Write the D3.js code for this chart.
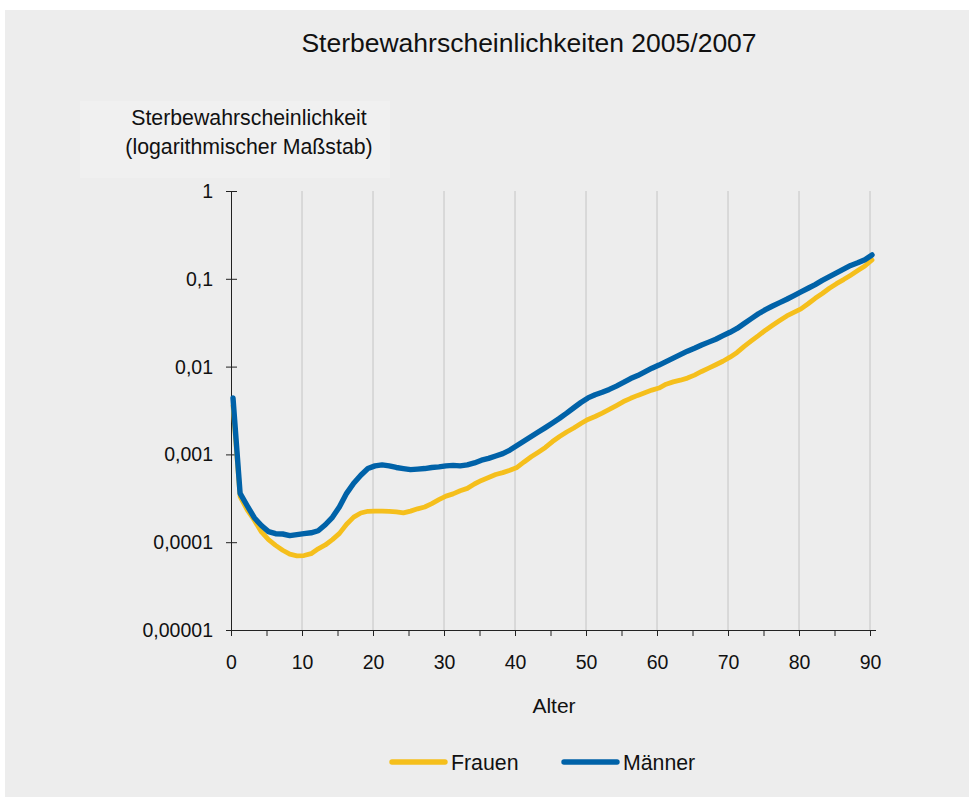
<!DOCTYPE html>
<html><head><meta charset="utf-8">
<script src="https://cdn.jsdelivr.net/npm/d3@7"></script>
<style>body{margin:0;background:#fff}svg{display:block}text{font-family:"Liberation Sans",Arial,sans-serif;fill:#111}</style>
</head><body>
<svg id="c" width="971" height="799"></svg>
<script>
const ages = d3.range(0, 91);
const frauen = [0.0036,0.00033,0.000234,0.000178,0.000131,0.000107,0.000092,0.000081,0.000073,0.000070,
0.0000705,0.000074,0.000084,0.000093,0.000107,0.000126,0.000160,0.000193,0.000215,0.000225,
0.000226,0.000226,0.000225,0.000222,0.000216,0.000226,0.000240,0.000252,0.000275,0.000305,
0.000335,0.000355,0.000385,0.000410,0.000460,0.000505,0.000545,0.000590,0.000620,0.000660,
0.000710,0.00082,0.00094,0.00106,0.00120,0.00140,0.00160,0.00180,0.00200,0.00225,
0.00250,0.00270,0.00295,0.00325,0.00360,0.00400,0.00435,0.00470,0.00505,0.00540,
0.00570,0.00630,0.00670,0.00700,0.00740,0.00800,0.00880,0.00960,0.01050,0.01150,
0.01280,0.01450,0.01700,0.01960,0.02250,0.02600,0.02960,0.03350,0.03780,0.04150,
0.04550,0.05200,0.06000,0.06800,0.07800,0.08800,0.09800,0.11000,0.12400,0.14000,0.16400];
const maenner = [0.0044,0.00036,0.00026,0.00019,0.000155,0.000132,0.000125,0.000124,0.000119,0.000122,
0.000125,0.000128,0.000135,0.000158,0.000192,0.000253,0.00036,0.00047,0.00058,0.00069,
0.00074,0.00076,0.00074,0.00071,0.00069,0.00067,0.00068,0.00069,0.00071,0.00072,
0.00074,0.00075,0.00074,0.00076,0.00080,0.00086,0.00090,0.00096,0.00102,0.00112,
0.00126,0.00142,0.00160,0.00180,0.00202,0.00228,0.00258,0.00295,0.00340,0.00390,
0.00440,0.00478,0.00510,0.00550,0.00600,0.00660,0.00730,0.00790,0.00870,0.00960,
0.0104,0.0114,0.0125,0.0137,0.0150,0.0162,0.0176,0.0190,0.0205,0.0225,
0.0246,0.0272,0.0310,0.0352,0.0400,0.0445,0.0490,0.0535,0.0585,0.0645,
0.0710,0.0780,0.0860,0.0960,0.1060,0.1170,0.1290,0.1420,0.1520,0.1650,0.1870];
const yTickValues = [0.00001,0.0001,0.001,0.01,0.1,1];
const yTickLabels = ["0,00001","0,0001","0,001","0,01","0,1","1"];
const xTickValues = [0,10,20,30,40,50,60,70,80,90];
const xMinorTicks = [5,15,25,35,45,55,65,75,85];
const seriesNames = ["Frauen","Männer"];
const colors = ["#f5bf1c","#0062a8"];
const title = "Sterbewahrscheinlichkeiten 2005/2007";
const yTitle = ["Sterbewahrscheinlichkeit","(logarithmischer Maßstab)"];
const xTitle = "Alter";

const svg = d3.select("#c");
svg.append("rect").attr("x",5).attr("y",10).attr("width",964).attr("height",787).attr("fill","#ededed");
svg.append("rect").attr("x",80).attr("y",101).attr("width",310).attr("height",77).attr("fill","#f0f0f0");

const x = d3.scaleLinear().domain([0,90]).range([231,870]);
const y = d3.scaleLog().domain([1e-5,1]).range([630,191]);

// grid
svg.append("g").selectAll("line").data(xTickValues.slice(1)).join("line")
  .attr("x1",d=>x(d)).attr("x2",d=>x(d)).attr("y1",y(1)).attr("y2",y(1e-5))
  .attr("stroke","#c4c4c4").attr("stroke-width",1);

// axes
const xAxis = d3.axisBottom(x).tickValues(xTickValues.concat(xMinorTicks)).tickSize(6).tickFormat(d=>xTickValues.includes(d)?String(d):"");
const gx = svg.append("g").attr("transform",`translate(0,${y(1e-5)})`).call(xAxis);
gx.select(".domain").attr("stroke","#222").attr("d",`M${x(0)-5},0.5H${x(90)+6}`);
gx.selectAll(".tick line").attr("stroke","#222");
gx.selectAll(".tick text").attr("font-size",19.5).attr("dy","1.55em").attr("fill","#111");

const yAxis = d3.axisLeft(y).tickValues(yTickValues).tickSize(0).tickFormat((d,i)=>yTickLabels[i]).tickPadding(18);
const gy = svg.append("g").attr("transform",`translate(${x(0)},0)`).call(yAxis);
gy.select(".domain").attr("stroke","#222").attr("d",`M0.5,${y(1)}V${y(1e-5)}`);
gy.selectAll(".tick line").attr("stroke","#222").attr("x1",-5).attr("x2",6);
gy.selectAll(".tick text").attr("font-size",19.5).attr("fill","#111").attr("dy","0.33em");

// lines
const line = d3.line().x((d,i)=>x(ages[i])+2).y(d=>y(d));
[frauen,maenner].forEach((s,k)=>{
  svg.append("path").datum(s).attr("d",line).attr("fill","none")
    .attr("stroke",colors[k]).attr("stroke-width",k===0?4.8:5.4)
    .attr("stroke-linejoin","round").attr("stroke-linecap","round");
});

// titles
svg.append("text").attr("x",529).attr("y",52).attr("text-anchor","middle").attr("font-size",26.5).text(title);
yTitle.forEach((t,i)=>svg.append("text").attr("x",249).attr("y",125+i*29).attr("text-anchor","middle").attr("font-size",21.3).text(t));
svg.append("text").attr("x",554).attr("y",713).attr("text-anchor","middle").attr("font-size",21).text(xTitle);

// legend
const legX = [390,562];
seriesNames.forEach((n,k)=>{
  svg.append("line").attr("x1",legX[k]+2).attr("x2",legX[k]+55).attr("y1",762).attr("y2",762)
    .attr("stroke",colors[k]).attr("stroke-width",5.4).attr("stroke-linecap","round");
  svg.append("text").attr("x",legX[k]+61).attr("y",769.5).attr("font-size",21.3).text(n);
});
</script>
</body></html>
